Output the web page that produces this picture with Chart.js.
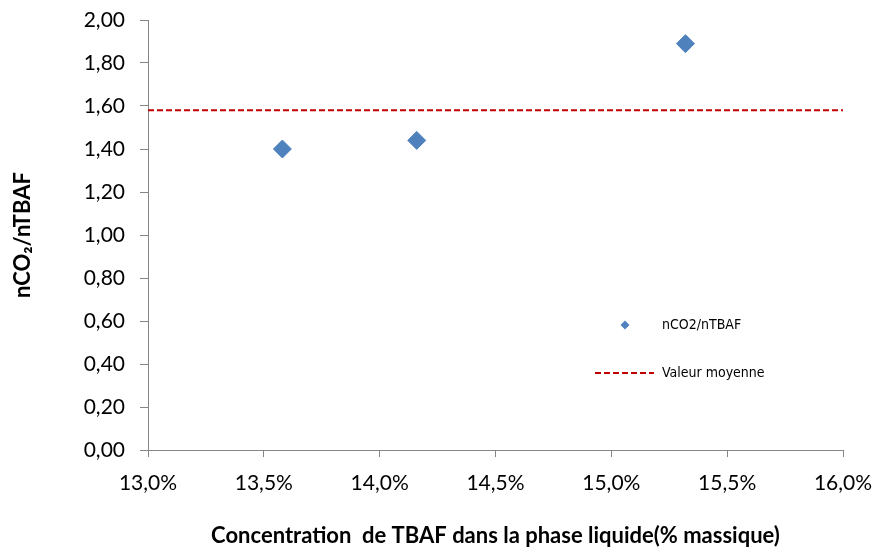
<!DOCTYPE html>
<html>
<head>
<meta charset="utf-8">
<script src="https://cdn.jsdelivr.net/npm/chart.js@4/dist/chart.umd.min.js"></script>
<style>
  body { margin: 0; background: #fff; }
  #wrap { width: 878px; height: 554px; position: relative; }
</style>
</head>
<body>
<div id="wrap"><canvas id="chart"></canvas></div>
<script>
// values
const concentration = [13.58, 14.16, 15.32];   // % massique
const ratio = [1.40, 1.44, 1.89];               // nCO2/nTBAF
const meanX = [13.0, 16.0];
const meanY = [1.58, 1.58];
const xTicks = [13.0, 13.5, 14.0, 14.5, 15.0, 15.5, 16.0];
const yTicks = [0, 0.2, 0.4, 0.6, 0.8, 1.0, 1.2, 1.4, 1.6, 1.8, 2.0];

const axisGrey = '#868686';
const blue = '#4f81bd';
const red = '#c00000';

const comma = (v, d) => v.toFixed(d).replace('.', ',');

// fixed axis box sizes, no extra label overflow padding
const fixBox = (w, h) => s => {
  if (w) s.width = w;
  if (h) s.height = h;
  s.paddingTop = s.paddingBottom = s.paddingLeft = s.paddingRight = 0;
};

// legend drawn inside the plot, like the original
const insideLegend = {
  id: 'insideLegend',
  afterDraw(chart) {
    const ctx = chart.ctx;
    const ds = chart.data.datasets;
    ctx.save();
    ctx.font = '14px "Liberation Sans Narrow", "DejaVu Sans Condensed", sans-serif';
    ctx.textBaseline = 'middle';

    // scatter entry
    let x = 625, y = 325, r = 4.5;
    ctx.fillStyle = ds[0].backgroundColor;
    ctx.beginPath();
    ctx.moveTo(x, y - r); ctx.lineTo(x + r, y); ctx.lineTo(x, y + r); ctx.lineTo(x - r, y);
    ctx.closePath();
    ctx.fill();
    ctx.fillStyle = '#000';
    ctx.fillText(ds[0].label, 662, y);

    // mean line entry
    y = 373;
    ctx.strokeStyle = ds[1].borderColor;
    ctx.lineWidth = 2;
    ctx.setLineDash(ds[1].borderDash);
    ctx.beginPath();
    ctx.moveTo(595, y); ctx.lineTo(654, y);
    ctx.stroke();
    ctx.setLineDash([]);
    ctx.fillText(ds[1].label, 662, y);
    ctx.restore();
  }
};

new Chart(document.getElementById('chart'), {
  type: 'scatter',
  data: {
    datasets: [
      {
        label: 'nCO2/nTBAF',
        data: concentration.map((c, i) => ({ x: c, y: ratio[i] })),
        pointStyle: 'rectRot',
        pointRadius: 9,
        pointHoverRadius: 9,
        backgroundColor: blue,
        borderColor: blue,
        borderWidth: 1
      },
      {
        label: 'Valeur moyenne',
        type: 'line',
        data: meanX.map((m, i) => ({ x: m, y: meanY[i] })),
        borderColor: red,
        borderWidth: 2,
        borderDash: [6, 3],
        pointRadius: 0,
        fill: false
      }
    ]
  },
  options: {
    responsive: true,
    maintainAspectRatio: false,
    animation: false,
    layout: { padding: { top: 20, right: 35, left: 0, bottom: 0 } },
    plugins: {
      legend: { display: false },
      tooltip: { enabled: false }
    },
    scales: {
      x: {
        type: 'linear',
        min: 13,
        max: 16,
        afterBuildTicks: s => { s.ticks = xTicks.map(v => ({ value: v })); },
        afterFit: fixBox(0, 104),
        ticks: {
          callback: v => comma(v, 1) + '%',
          color: '#000',
          padding: 14,
          maxRotation: 0,
          font: { family: 'Lato', size: 21 }
        },
        grid: { drawOnChartArea: false, tickLength: 7, color: axisGrey },
        border: { color: axisGrey, width: 1 },
        title: {
          display: true,
          text: 'Concentration  de TBAF dans la phase liquide(% massique)',
          color: '#000',
          padding: { top: 0, bottom: 5 },
          font: { family: 'Lato', size: 22, weight: 'bold' }
        }
      },
      y: {
        min: 0,
        max: 2,
        afterBuildTicks: s => { s.ticks = yTicks.map(v => ({ value: v })); },
        afterFit: fixBox(148, 0),
        ticks: {
          callback: v => comma(v, 2),
          color: '#000',
          padding: 15,
          font: { family: 'Lato', size: 21 }
        },
        grid: { drawOnChartArea: false, tickLength: 8, color: axisGrey },
        border: { color: axisGrey, width: 1 },
        title: {
          display: true,
          text: 'nCO₂/nTBAF',
          color: '#000',
          padding: { top: 10, bottom: 0 },
          font: { family: 'Lato', size: 22, weight: 'bold' }
        }
      }
    }
  },
  plugins: [insideLegend]
});
</script>
</body>
</html>
